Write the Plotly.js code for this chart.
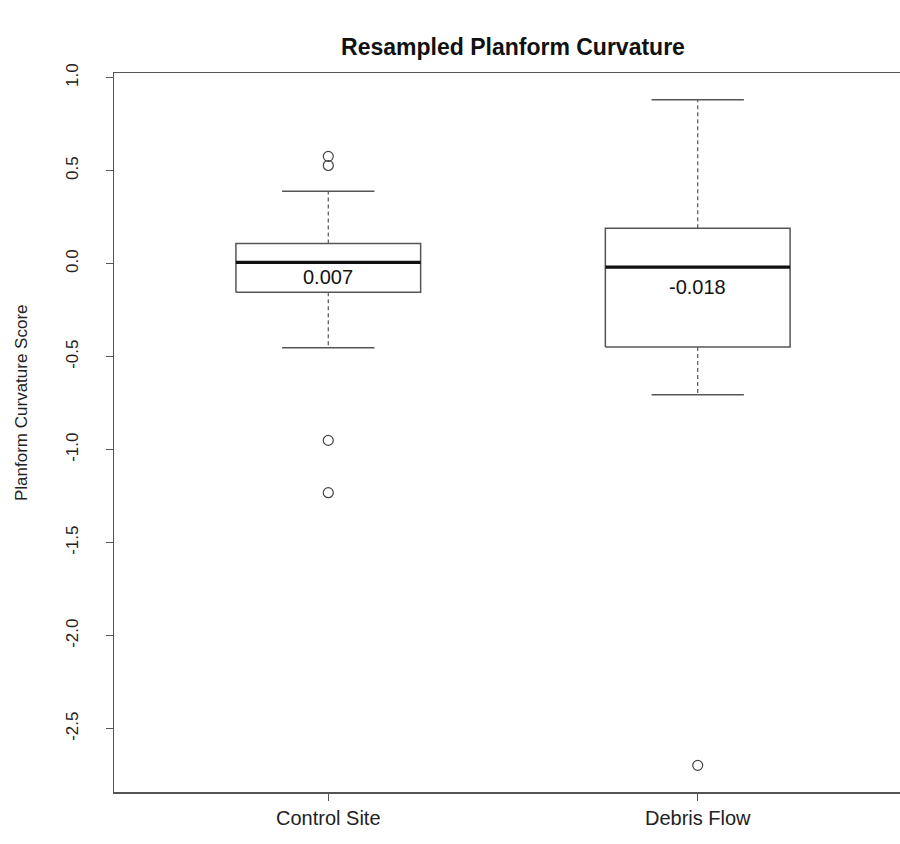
<!DOCTYPE html>
<html>
<head>
<meta charset="utf-8">
<script src="https://cdn.plot.ly/plotly-3.0.1.min.js"></script>
<style>
html,body{margin:0;padding:0;overflow:hidden;background:#fff;}
#chart{width:912px;height:844px;}
</style>
</head>
<body>
<div id="chart"></div>
<script>
// ---- data ----
const categories = ["Control Site", "Debris Flow"];
const q1 = [-0.153, -0.448];
const medians = [0.007, -0.018];
const q3 = [0.108, 0.191];
const lowerWhisker = [-0.452, -0.704];
const upperWhisker = [0.390, 0.882];
const outliersControl = [0.577, 0.528, -0.950, -1.231];
const outliersDebris = [-2.697];
const medianLabels = ["0.007", "-0.018"];
const yTickVals = [-2.5, -2.0, -1.5, -1.0, -0.5, 0.0, 0.5, 1.0];
const yTickText = ["-2.5", "-2.0", "-1.5", "-1.0", "-0.5", "0.0", "0.5", "1.0"];

// ---- style ----
const FONT = "Liberation Sans, Arial, Helvetica, sans-serif";
const lineCol = "#555555";
const boxHalf = 0.25, capHalf = 0.125;
const labelShift = [-15, -20];

const pos = categories.map((c, i) => i + 1);

function seg(builder) {
  const xs = [], ys = [];
  pos.forEach((p, i) => {
    const s = builder(p, i);
    xs.push(...s[0], null);
    ys.push(...s[1], null);
  });
  return [xs, ys];
}

const boxes = seg((p, i) => [[p - boxHalf, p + boxHalf, p + boxHalf, p - boxHalf, p - boxHalf],
                             [q1[i], q1[i], q3[i], q3[i], q1[i]]]);
const meds = seg((p, i) => [[p - boxHalf, p + boxHalf], [medians[i], medians[i]]]);
const whisk = seg((p, i) => [[p, p, null, p, p], [q3[i], upperWhisker[i], null, q1[i], lowerWhisker[i]]]);
const caps = seg((p, i) => [[p - capHalf, p + capHalf, null, p - capHalf, p + capHalf],
                            [upperWhisker[i], upperWhisker[i], null, lowerWhisker[i], lowerWhisker[i]]]);

const outX = [], outY = [];
outliersControl.forEach(v => { outX.push(pos[0]); outY.push(v); });
outliersDebris.forEach(v => { outX.push(pos[1]); outY.push(v); });

const allVals = [].concat(lowerWhisker, upperWhisker, outliersControl, outliersDebris);
const ymin = Math.min(...allVals), ymax = Math.max(...allVals);
const pad = (ymax - ymin) * 0.04;

const traces = [
  {x: whisk[0], y: whisk[1], mode: "lines", line: {color: lineCol, width: 1.2, dash: "4px,3px"}, hoverinfo: "skip"},
  {x: caps[0], y: caps[1], mode: "lines", line: {color: lineCol, width: 1.5}, hoverinfo: "skip"},
  {x: boxes[0], y: boxes[1], mode: "lines", line: {color: lineCol, width: 1.5}, hoverinfo: "skip"},
  {x: meds[0], y: meds[1], mode: "lines", line: {color: "#111111", width: 3.2}, hoverinfo: "skip"},
  {x: outX, y: outY, mode: "markers", marker: {symbol: "circle-open", size: 10, color: "#444444", line: {width: 1.2}}, hoverinfo: "y"}
];

const annotations = pos.map((p, i) => ({
  x: p, y: medians[i], xref: "x", yref: "y", text: medianLabels[i],
  showarrow: false, yshift: labelShift[i], yanchor: "middle",
  font: {family: FONT, size: 20, color: "#111111"}
}));
// y-axis title (placed as in the reference, slightly above the axis centre)
annotations.push({
  text: "Planform Curvature Score", textangle: -90, showarrow: false,
  xref: "paper", yref: "paper", x: -92 / 798, y: 1 - (403 - 73) / 719,
  xanchor: "center", yanchor: "middle",
  font: {family: FONT, size: 17, color: "#222222"}
});

const layout = {
  width: 912, height: 844,
  margin: {l: 114, r: 0, t: 73, b: 52},
  paper_bgcolor: "#ffffff", plot_bgcolor: "#ffffff",
  showlegend: false,
  font: {family: FONT, color: "#222222"},
  title: {text: "<b>Resampled Planform Curvature</b>", font: {family: FONT, size: 23, color: "#111111"},
          x: 0.5, xref: "paper", y: 1 - 47 / 844, yref: "container", yanchor: "middle"},
  xaxis: {
    range: [0.42, 2.58], tickmode: "array", tickvals: pos, ticktext: categories,
    showgrid: false, zeroline: false, showline: true, mirror: true, linecolor: lineCol, linewidth: 1.5,
    ticks: "outside", ticklen: 7, tickcolor: lineCol, tickwidth: 1.2,
    tickfont: {family: FONT, size: 20, color: "#222222"}, ticklabelstandoff: 0
  },
  yaxis: {
    range: [ymin - pad, ymax + pad], tickmode: "array",
    tickvals: yTickVals, ticktext: yTickText,
    tickangle: -90,
    showgrid: false, zeroline: false, showline: true, mirror: true, linecolor: lineCol, linewidth: 1.5,
    ticks: "outside", ticklen: 7, tickcolor: lineCol, tickwidth: 1.2,
    tickfont: {family: FONT, size: 17, color: "#222222"}, ticklabelstandoff: 21
  },
  annotations: annotations
};

Plotly.newPlot("chart", traces, layout, {displayModeBar: false, staticPlot: true});
</script>
</body>
</html>
